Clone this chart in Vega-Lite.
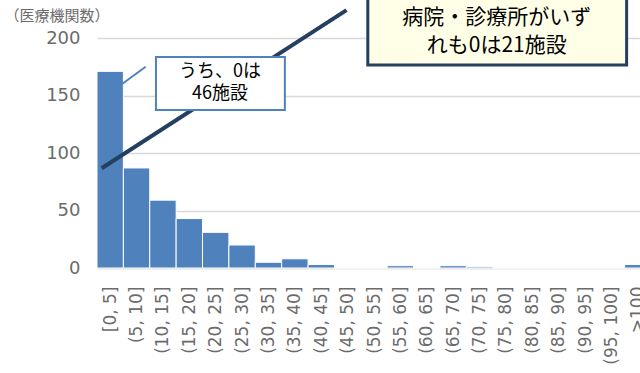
{
  "$schema": "https://vega.github.io/schema/vega-lite/v6.json",
  "autosize": {"type": "none"},
  "width": 543,
  "height": 230,
  "padding": {"left": 97, "top": 38, "right": 0, "bottom": 105},
  "background": "#ffffff",
  "view": {"stroke": null},
  "config": {
    "axis": {"labelColor": "#6b6b6b", "titleColor": "#6b6b6b"}
  },
  "layer": [
    {
      "data": {"values": [
        {"label": "[0, 5]", "start": 0, "end": 1, "count": 171},
        {"label": "(5, 10]", "start": 1, "end": 2, "count": 87},
        {"label": "(10, 15]", "start": 2, "end": 3, "count": 59},
        {"label": "(15, 20]", "start": 3, "end": 4, "count": 43},
        {"label": "(20, 25]", "start": 4, "end": 5, "count": 31},
        {"label": "(25, 30]", "start": 5, "end": 6, "count": 20},
        {"label": "(30, 35]", "start": 6, "end": 7, "count": 5},
        {"label": "(35, 40]", "start": 7, "end": 8, "count": 8},
        {"label": "(40, 45]", "start": 8, "end": 9, "count": 3},
        {"label": "(45, 50]", "start": 9, "end": 10, "count": 0},
        {"label": "(50, 55]", "start": 10, "end": 11, "count": 0},
        {"label": "(55, 60]", "start": 11, "end": 12, "count": 2},
        {"label": "(60, 65]", "start": 12, "end": 13, "count": 0},
        {"label": "(65, 70]", "start": 13, "end": 14, "count": 2},
        {"label": "(70, 75]", "start": 14, "end": 15, "count": 1},
        {"label": "(75, 80]", "start": 15, "end": 16, "count": 0},
        {"label": "(80, 85]", "start": 16, "end": 17, "count": 0},
        {"label": "(85, 90]", "start": 17, "end": 18, "count": 0},
        {"label": "(90, 95]", "start": 18, "end": 19, "count": 0},
        {"label": "(95, 100]", "start": 19, "end": 20, "count": 0},
        {"label": ">100", "start": 20, "end": 21, "count": 3}
      ]},
      "mark": {"type": "rect", "color": "#4f81bd", "stroke": "#ffffff", "strokeWidth": 1},
      "encoding": {
        "x": {
          "field": "start", "type": "quantitative",
          "scale": {"domain": [0, 21], "range": [0, 554], "nice": false, "zero": false},
          "axis": {
            "title": null,
            "values": [0.5, 1.5, 2.5, 3.5, 4.5, 5.5, 6.5, 7.5, 8.5, 9.5, 10.5, 11.5, 12.5, 13.5, 14.5, 15.5, 16.5, 17.5, 18.5, 19.5, 20.5],
            "tickCount": 40,
            "labelExpr": "['[0, 5]','(5, 10]','(10, 15]','(15, 20]','(20, 25]','(25, 30]','(30, 35]','(35, 40]','(40, 45]','(45, 50]','(50, 55]','(55, 60]','(60, 65]','(65, 70]','(70, 75]','(75, 80]','(80, 85]','(85, 90]','(90, 95]','(95, 100]','>100'][floor(datum.value)]",
            "labelAngle": 270,
            "labelAlign": "right",
            "labelBaseline": "middle",
            "labelFont": "DejaVu Sans",
            "labelFontSize": 17,
            "labelPadding": 18,
            "labelOverlap": false,
            "labelBound": false,
            "labelFlush": false,
            "ticks": false,
            "grid": false,
            "domainColor": "#d9d9d9",
            "domainWidth": 1.5
          }
        },
        "x2": {"field": "end"},
        "y": {
          "field": "count", "type": "quantitative",
          "scale": {"domain": [0, 200], "nice": false},
          "axis": {
            "title": "（医療機関数）",
            "titleAngle": 0,
            "titleAlign": "left",
            "titleBaseline": "middle",
            "titleX": -93,
            "titleY": -23,
            "titleFont": "Noto Sans CJK JP",
            "titleFontSize": 15,
            "titleFontWeight": "normal",
            "values": [0, 50, 100, 150, 200],
            "labelFont": "DejaVu Sans",
            "labelFontSize": 18,
            "labelPadding": 17,
            "ticks": false,
            "domain": false,
            "gridColor": "#d9d9d9",
            "gridWidth": 1.5
          }
        },
        "y2": {"datum": 0}
      }
    },
    {
      "data": {"values": [{"x": 0.898, "y": 159.1, "x2": 1.845, "y2": 175.0}]},
      "mark": {"type": "rule", "color": "#4f81bd", "strokeWidth": 2},
      "encoding": {
        "x": {"field": "x", "type": "quantitative"},
        "y": {"field": "y", "type": "quantitative"},
        "x2": {"field": "x2"},
        "y2": {"field": "y2"}
      }
    },
    {
      "data": {"values": [{"x": 0.178, "y": 86.7, "x2": 9.458, "y2": 224.3}]},
      "mark": {"type": "rule", "color": "#243f60", "strokeWidth": 4},
      "encoding": {
        "x": {"field": "x", "type": "quantitative"},
        "y": {"field": "y", "type": "quantitative"},
        "x2": {"field": "x2"},
        "y2": {"field": "y2"}
      }
    },
    {
      "data": {"values": [{"x": 2.235, "y": 183.5, "x2": 7.121, "y2": 137.4}]},
      "mark": {"type": "rect", "fill": "#ffffff", "stroke": "#4f81bd", "strokeWidth": 2},
      "encoding": {
        "x": {"field": "x", "type": "quantitative"},
        "y": {"field": "y", "type": "quantitative"},
        "x2": {"field": "x2"},
        "y2": {"field": "y2"}
      }
    },
    {
      "data": {"values": [
        {"x": 4.659, "y": 170.3, "t": "うち、0は"},
        {"x": 4.659, "y": 151.2, "t": "46施設"}
      ]},
      "mark": {"type": "text", "font": "Noto Sans CJK JP", "fontSize": 18, "color": "#000000", "align": "center", "baseline": "middle"},
      "encoding": {
        "x": {"field": "x", "type": "quantitative"},
        "y": {"field": "y", "type": "quantitative"},
        "text": {"field": "t"}
      }
    },
    {
      "data": {"values": [{"x": 10.265, "y": 237.4, "x2": 20.076, "y2": 176.5}]},
      "mark": {"type": "rect", "fill": "#ffffe8", "stroke": "#243f60", "strokeWidth": 3},
      "encoding": {
        "x": {"field": "x", "type": "quantitative"},
        "y": {"field": "y", "type": "quantitative"},
        "x2": {"field": "x2"},
        "y2": {"field": "y2"}
      }
    },
    {
      "data": {"values": [
        {"x": 15.152, "y": 217.4, "t": "病院・診療所がいず"},
        {"x": 15.152, "y": 193.0, "t": "れも0は21施設"}
      ]},
      "mark": {"type": "text", "font": "Noto Sans CJK JP", "fontSize": 21, "color": "#000000", "align": "center", "baseline": "middle"},
      "encoding": {
        "x": {"field": "x", "type": "quantitative"},
        "y": {"field": "y", "type": "quantitative"},
        "text": {"field": "t"}
      }
    }
  ]
}
